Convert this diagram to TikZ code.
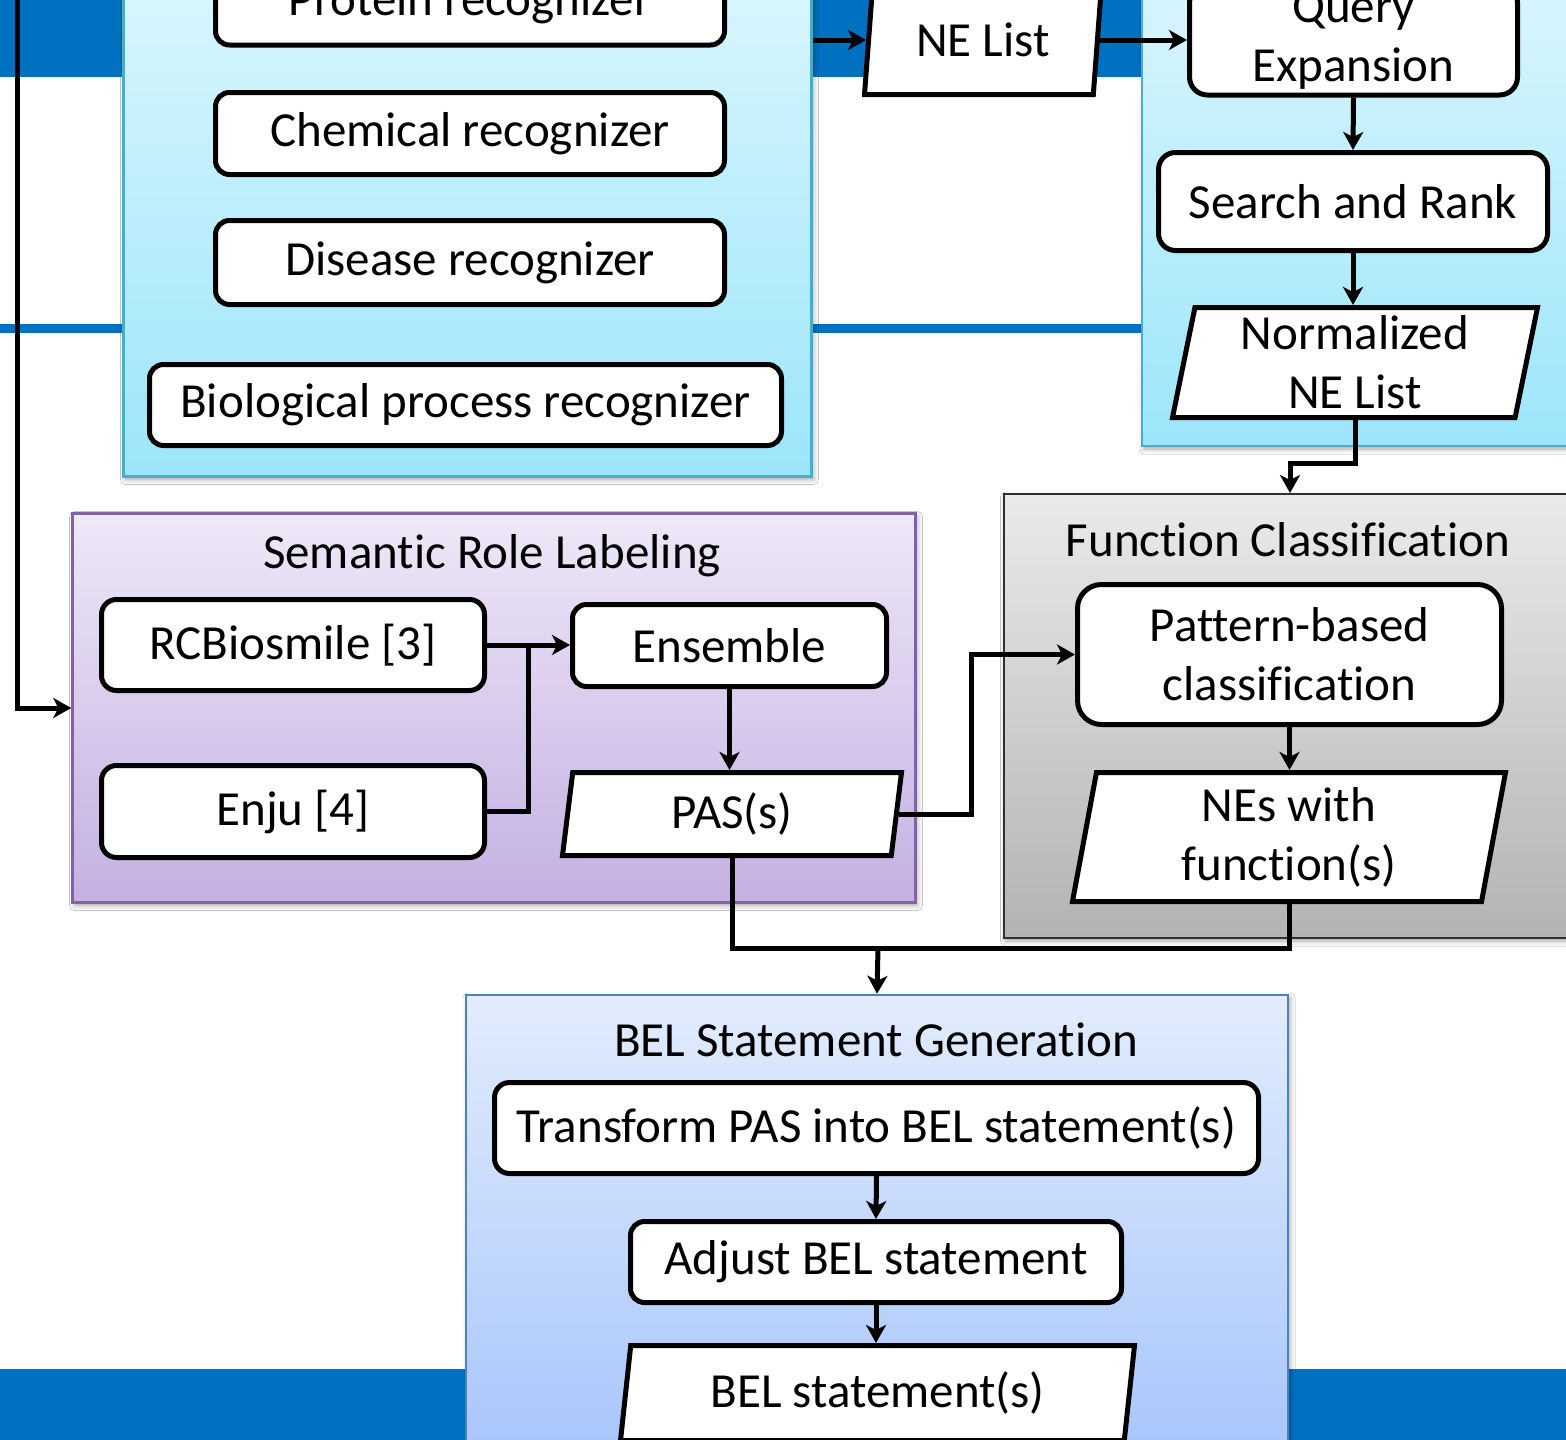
\documentclass[tikz,border=0pt]{standalone}
\usepackage{fontspec}
\setmainfont{Carlito}[RawFeature={-liga;-clig;-calt;-dlig}]
\usetikzlibrary{shapes.geometric,arrows.meta,shadows.blur}

\definecolor{bandblue}{HTML}{0070C0}
\definecolor{nerTop}{HTML}{DAF6FD}
\definecolor{nerBot}{HTML}{9CE5FA}
\definecolor{nerEdge}{HTML}{4BACC6}
\definecolor{srlTop}{HTML}{EEE8F7}
\definecolor{srlBot}{HTML}{C4B0E2}
\definecolor{srlEdge}{HTML}{8064A2}
\definecolor{fcTop}{HTML}{EAEAEA}
\definecolor{fcBot}{HTML}{B3B3B3}
\definecolor{fcEdge}{HTML}{303030}
\definecolor{belTop}{HTML}{E2ECFD}
\definecolor{belBot}{HTML}{A5C4FB}
\definecolor{belEdge}{HTML}{4F81BD}

\begin{document}
\begin{tikzpicture}[x=1pt,y=-1pt,
  font=\fontsize{49}{59}\selectfont,
  panel/.style={draw=#1, line width=2.5pt, inner sep=0pt,
    blur shadow={shadow xshift=2pt,shadow yshift=-3pt,shadow blur radius=5pt,shadow opacity=35}},
  title/.style={inner sep=0pt},
  box/.style={draw=black, line width=5pt, fill=white, rounded corners=#1,
    inner sep=0pt, align=center},
  box/.default=15pt,
  data/.style={trapezium, trapezium left angle=76.5, trapezium right angle=103.5,
    trapezium stretches body, draw=black, line width=5pt, fill=white,
    inner sep=0pt, align=center},
  flow/.style={line width=5pt, -{Stealth[length=18pt,width=20pt,inset=5pt]}},
  link/.style={line width=5pt}
]
\useasboundingbox (0,0) rectangle (1566,1440);
\fill[white] (0,0) rectangle (1566,1440);

% slide bands behind the chart
\fill[bandblue] (0,0) rectangle (1566,77);
\fill[bandblue] (0,324) rectangle (1566,333);
\fill[bandblue] (0,1369) rectangle (1566,1440);

% ---- stage panels ----
\node[panel=nerEdge, top color=nerTop, bottom color=nerBot,
      minimum width=688pt, minimum height=505pt] (ner) at (467.5,224) {};
\node[panel=nerEdge, top color=nerTop, bottom color=nerBot,
      minimum width=429pt, minimum height=475pt] (norm) at (1356.5,208.5) {};
\node[panel=srlEdge, top color=srlTop, bottom color=srlBot,
      minimum width=843pt, minimum height=389pt] (srl) at (494,708) {};
\node[panel=fcEdge, line width=2pt, top color=fcTop, bottom color=fcBot,
      minimum width=573pt, minimum height=444pt] (fc) at (1290,716) {};
\node[panel=belEdge, top color=belTop, bottom color=belBot,
      minimum width=822pt, minimum height=480pt] (bel) at (877,1235) {};

\node[title] (srlT) at (492,556) {Semantic Role Labeling};
\node[title] (fcT) at (1288,540) {Function Classification};
\node[title] (belT) at (876,1040) {BEL Statement Generation};

% ---- named entity recognizers ----
\node[box=14pt, minimum width=509pt, minimum height=84pt] (prot) at (470,3) {Protein recognizer};
\node[box=14pt, minimum width=509pt, minimum height=82pt] (chem) at (470,133.5) {Chemical recognizer};
\node[box=14pt, minimum width=509pt, minimum height=84pt] (dis) at (470,262.5) {Disease recognizer};
\node[box=14pt, minimum width=632pt, minimum height=81pt] (bio) at (465.5,405) {Biological process recognizer};

% ---- normalization ----
\node[data, minimum width=237pt, minimum height=109pt] (nelist) at (983,40) {NE List};
\node[box=18pt, minimum width=328pt, minimum height=110pt] (qe) at (1353.5,40) {Query\\Expansion};
\node[box=17pt, minimum width=389pt, minimum height=98pt] (sr) at (1353,201.5) {Search and Rank};
\node[data, minimum width=365pt, minimum height=110pt] (nne) at (1355,362.5) {Normalized\\NE List};

% ---- semantic role labeling ----
\node[box=15pt, minimum width=383pt, minimum height=91pt] (rcb) at (293,645) {RCBiosmile [3]};
\node[box=15pt, minimum width=383pt, minimum height=92pt] (enju) at (293,811.5) {Enju [4]};
\node[box=14pt, minimum width=314pt, minimum height=82pt] (ens) at (729.5,645.5) {Ensemble};
\node[data, minimum width=339pt, minimum height=83pt] (pas) at (732,814) {PAS(s)};

% ---- function classification ----
\node[box=24pt, minimum width=424pt, minimum height=140pt] (pb) at (1289.5,654.5) {Pattern-based\\classification};
\node[data, minimum width=433pt, minimum height=129pt] (nes) at (1289,837) {NEs with\\function(s)};

% ---- BEL statement generation ----
\node[box=15pt, minimum width=764pt, minimum height=91pt] (tr) at (876.5,1128) {Transform PAS into BEL statement(s)};
\node[box=14pt, minimum width=491pt, minimum height=81pt] (adj) at (876,1262) {Adjust BEL statement};
\node[data, minimum width=514pt, minimum height=95pt] (bs) at (877.5,1393) {BEL statement(s)};

% ---- connectors ----
\coordinate (input) at (17,-30);
\coordinate (jn) at (528,645);
\coordinate (mg) at (878,948);

\draw[flow] (input) |- (srl.west);
\draw[flow] (ner.east |- nelist.left side) -- (nelist.left side);
\draw[flow] (nelist.right side) -- (qe.west |- nelist.right side);
\draw[flow] (qe.south) -- (sr.north);
\draw[flow] (sr.south) -- (sr.south |- nne.north);
\draw[flow] (nne.south) -- ++(0,43) -| (fc.north);

\draw[link] (enju.east) -| (jn);
\draw[flow] (rcb.east) -- (ens.west |- rcb.east);
\draw[flow] (ens.south) -- (ens.south |- pas.north);
\draw[flow] (pas.right side) -- ++(73,0) |- (pb.west);

\draw[flow] (pb.south) -- (pb.south |- nes.north);

\draw[link] (pas.south) |- (mg);
\draw[link] (nes.south) |- (mg);
\draw[flow] (mg) -- (bel.north);

\draw[flow] (tr.south) -- (adj.north);
\draw[flow] (adj.south) -- (adj.south |- bs.north);
\end{tikzpicture}
\end{document}
